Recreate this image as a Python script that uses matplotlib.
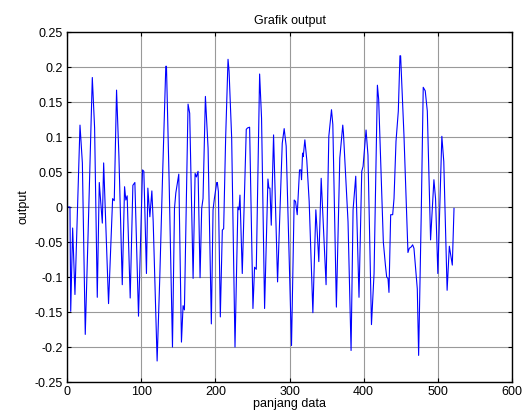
import matplotlib
matplotlib.use("Agg")
import matplotlib.pyplot as plt

# sample index (vertices of the response curve) and output value
idx = [1, 4, 5, 7.6, 10.7, 17.5, 20.7, 24.6, 28.3, 34.1, 37.2, 40.8, 43.5,
       47.6, 49.4, 56.0, 61.5, 63.7, 66.8, 70.0, 74.5, 77.6, 79.3, 81.1,
       85.2, 88.8, 91.5, 96.4, 101.8, 103.6, 107.1, 109.0, 111.7, 114.4,
       116.2, 121.5, 125.1, 128.7, 133.2, 134.1, 137.6, 142.2, 144.9, 146.7,
       150.7, 154.3, 156.5, 158.3, 163.2, 165.4, 170.0, 172.7, 174.5, 176.7,
       179.4, 181.6, 183.4, 186.6, 190.2, 194.6, 196.9, 198.7, 201.9, 202.7,
       204.1, 206.7, 209.4, 211.2, 213.9, 217.1, 218.5, 222.0, 226.5, 230.4,
       231.9, 233.2, 236.3, 241.7, 243.5, 246.2, 250.7, 252.9, 255.2, 259.7,
       262.3, 266.4, 270.9, 272.2, 273.6, 275.4, 278.5, 283.9, 290.2, 292.8,
       295.5, 302.7, 306.3, 308.1, 310.4, 313.5, 315.3, 316.2, 317.6, 318.5,
       320.7, 323.3, 326.5, 331.5, 335.5, 337.3, 339.5, 342.7, 345.8, 349.3,
       353.0, 356.6, 358.4, 363.2, 367.8, 370.0, 371.8, 372.7, 378.9, 383.0,
       385.7, 389.3, 393.7, 397.4, 399.2, 403.2, 405.8, 410.5, 414.0, 418.5,
       420.2, 423.0, 424.8, 426.5, 429.3, 431.0, 432.8, 434.1, 436.4, 439.1,
       440.9, 443.6, 446.7, 448.9, 449.8, 454.3, 459.7, 461.5, 464.1, 466.0,
       467.8, 472.3, 474.1, 477.6, 480.3, 483.0, 485.8, 490.2, 494.7, 496.9,
       500.0, 505.4, 508.0, 512.5, 515.5, 519.5, 521.8]
output = [0, 0, -0.149, -0.03, -0.125, 0.117, 0.063, -0.182, -0.043, 0.185,
          0.113, -0.129, 0.035, -0.023, 0.063, -0.138, 0.012, 0.009, 0.167,
          0.072, -0.111, 0.029, 0.010, 0.016, -0.13, 0.031, 0.035, -0.156,
          0.053, 0.051, -0.095, 0.027, -0.014, 0.023, -0.021, -0.22, -0.100,
          0.039, 0.201, 0.201, 0.041, -0.2, -0.002, 0.020, 0.047, -0.193,
          -0.141, -0.147, 0.147, 0.134, -0.102, 0.048, 0.043, 0.051, -0.101,
          -0.002, 0.012, 0.158, 0.084, -0.167, -0.004, 0.012, 0.035, 0.035,
          0.022, -0.157, -0.033, -0.031, 0.099, 0.211, 0.194, 0.099, -0.2,
          0.0, -0.004, 0.017, -0.095, 0.111, 0.113, 0.114, -0.145, -0.086,
          -0.089, 0.190, 0.127, -0.145, 0.040, 0.027, 0.027, -0.026, 0.103,
          -0.107, 0.091, 0.112, 0.087, -0.198, 0.010, 0.008, -0.011, 0.053,
          0.053, 0.039, 0.077, 0.072, 0.096, 0.067, 0.008, -0.151, -0.004,
          -0.035, -0.078, 0.041, -0.031, -0.111, 0.101, 0.139, 0.118, -0.143,
          0.070, 0.096, 0.117, 0.106, -0.021, -0.205, -0.004, 0.044, -0.129,
          0.051, 0.058, 0.110, 0.074, -0.168, -0.095, 0.174, 0.154, 0.065,
          0.008, -0.050, -0.083, -0.100, -0.102, -0.122, -0.011, -0.011,
          0.012, 0.094, 0.137, 0.216, 0.216, 0.103, -0.065, -0.059, -0.057,
          -0.054, -0.059, -0.117, -0.212, -0.011, 0.171, 0.166, 0.137,
          -0.047, 0.039, 0.012, -0.095, 0.101, 0.065, -0.119, -0.056, -0.083,
          -0.002]

xticks = [0, 100, 200, 300, 400, 500, 600]
yticks = [-0.25, -0.2, -0.15, -0.1, -0.05, 0, 0.05, 0.1, 0.15, 0.2, 0.25]
ytick_labels = ["-0.25", "-0.2", "-0.15", "-0.1", "-0.05", "0",
                "0.05", "0.1", "0.15", "0.2", "0.25"]

plt.rcParams["font.family"] = ["Liberation Sans", "DejaVu Sans"]
plt.rcParams["font.size"] = 9

fig = plt.figure(figsize=(5.26, 4.19), dpi=100)
ax = fig.add_axes([0.1274, 0.0883, 0.8460, 0.8353])
ax.plot(idx, output, color="#0000ff", linewidth=0.8)

ax.set_xlim(0, 600)
ax.set_ylim(-0.25, 0.25)
ax.set_xticks(xticks)
ax.set_yticks(yticks)
ax.set_yticklabels(ytick_labels)
ax.grid(True, color="#999999", linewidth=0.8, linestyle="-")
ax.set_axisbelow(True)
ax.tick_params(direction="in", length=3, width=0.8, top=True, right=True,
               pad=3, labelsize=9)
for s in ax.spines.values():
    s.set_linewidth(1.0)

ax.set_title("Grafik output", fontsize=9, pad=6)
ax.set_xlabel("panjang data", fontsize=9, labelpad=0)
ax.set_ylabel("output", fontsize=9, labelpad=4)

fig.savefig("out.png", dpi=100)
